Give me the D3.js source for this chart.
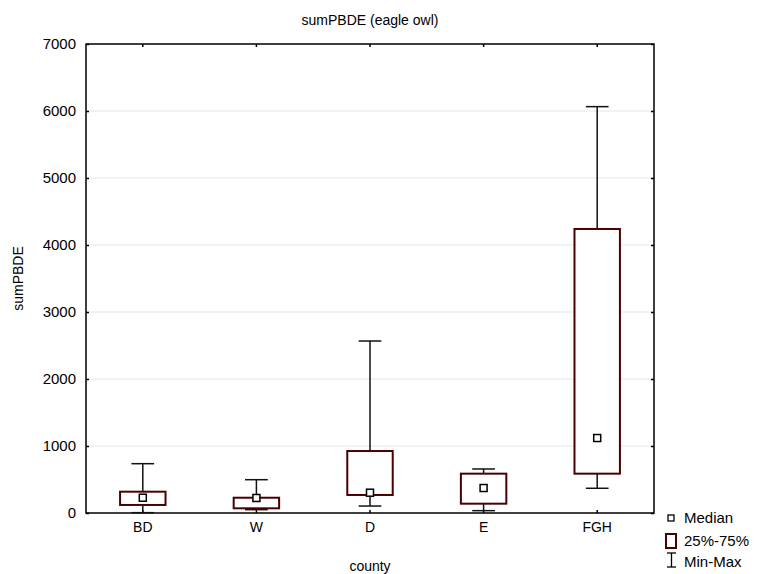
<!DOCTYPE html>
<html>
<head>
<meta charset="utf-8">
<script src="https://cdn.jsdelivr.net/npm/d3@7"></script>
<style>
  body { margin: 0; background: #fff; }
  text { font-family: "Liberation Sans", Arial, sans-serif; fill: #000; }
</style>
</head>
<body>
<svg id="myChart" width="760" height="574"></svg>
<script>
// county categories and box statistics
const counties = ["BD", "W", "D", "E", "FGH"];
const minVals = [5, 50, 104, 35, 369];
const q1Vals = [120, 70, 269, 139, 587];
const medianVals = [228, 224, 303, 373, 1119];
const q3Vals = [318, 228, 925, 587, 4239];
const maxVals = [736, 497, 2567, 657, 6065];
const yTicks = [0, 1000, 2000, 3000, 4000, 5000, 6000, 7000];

const boxColor = "#4a0000";

let svg = d3.select("#myChart");
let margin = {left: 86, right: 106, top: 44, bottom: 61};
let width = 760, height = 574;

let data = counties.map((c, i) => ({
    county: c, min: minVals[i], q1: q1Vals[i], median: medianVals[i], q3: q3Vals[i], max: maxVals[i]
}));

let x = d3.scaleBand()
    .domain(counties)
    .range([margin.left, width - margin.right])
    .padding(0);

let y = d3.scaleLinear()
    .domain([0, 7000])
    .range([height - margin.bottom, margin.top]);

// grid
svg.append("g")
    .selectAll("line")
    .data(yTicks.slice(1, -1))
    .enter().append("line")
    .attr("x1", margin.left).attr("x2", width - margin.right)
    .attr("y1", d => y(d)).attr("y2", d => y(d))
    .attr("stroke", "#e6e6e6").attr("stroke-width", 1.2);

// axes with inner ticks
let tickLen = 3;
svg.append("g")
    .attr("transform", "translate(" + margin.left + ",0)")
    .call(d3.axisLeft(y).tickValues(yTicks).tickSize(-tickLen).tickPadding(10).tickFormat(d3.format("d")))
    .call(g => g.select(".domain").remove())
    .call(g => g.selectAll("text").style("font-size", "15px"));

svg.append("g")
    .attr("transform", "translate(" + (width - margin.right) + ",0)")
    .call(d3.axisRight(y).tickValues(yTicks).tickSize(-tickLen).tickFormat(""))
    .call(g => g.select(".domain").remove());

svg.append("g")
    .attr("transform", "translate(0," + (height - margin.bottom) + ")")
    .call(d3.axisBottom(x).tickSize(-tickLen).tickPadding(9))
    .call(g => g.select(".domain").remove())
    .call(g => g.selectAll("text").style("font-size", "14px"));

svg.append("g")
    .attr("transform", "translate(0," + margin.top + ")")
    .call(d3.axisTop(x).tickSize(-tickLen).tickFormat(""))
    .call(g => g.select(".domain").remove());

svg.selectAll(".tick line").attr("stroke", "#000").attr("stroke-width", 1.5);

// frame
svg.append("rect")
    .attr("x", margin.left).attr("y", margin.top)
    .attr("width", width - margin.left - margin.right)
    .attr("height", height - margin.top - margin.bottom)
    .attr("fill", "none").attr("stroke", "#000").attr("stroke-width", 1.5);

// boxes
let boxW = x.bandwidth() * 0.4;
let capW = x.bandwidth() * 0.2;

let node = svg.selectAll(".box")
    .data(data)
    .enter().append("g")
    .attr("class", "box")
    .attr("transform", d => "translate(" + (x(d.county) + x.bandwidth() / 2) + ",0)");

node.append("line")
    .attr("x1", 0).attr("x2", 0)
    .attr("y1", d => y(d.q3)).attr("y2", d => y(d.max))
    .attr("stroke", "#111").attr("stroke-width", 1.5);
node.append("line")
    .attr("x1", 0).attr("x2", 0)
    .attr("y1", d => y(d.q1)).attr("y2", d => y(d.min))
    .attr("stroke", "#111").attr("stroke-width", 1.5);
node.append("line")
    .attr("x1", -capW / 2).attr("x2", capW / 2)
    .attr("y1", d => y(d.max)).attr("y2", d => y(d.max))
    .attr("stroke", "#111").attr("stroke-width", 1.5);
node.append("line")
    .attr("x1", -capW / 2).attr("x2", capW / 2)
    .attr("y1", d => y(d.min)).attr("y2", d => y(d.min))
    .attr("stroke", "#111").attr("stroke-width", 1.5);

node.append("rect")
    .attr("x", -boxW / 2).attr("width", boxW)
    .attr("y", d => y(d.q3)).attr("height", d => y(d.q1) - y(d.q3))
    .attr("fill", "#fff").attr("stroke", boxColor).attr("stroke-width", 2);

node.append("rect")
    .attr("x", -3.5).attr("width", 7)
    .attr("y", d => y(d.median) - 3.5).attr("height", 7)
    .attr("fill", "#fff").attr("stroke", "#000").attr("stroke-width", 1.5);

// titles
svg.append("text")
    .attr("x", (margin.left + width - margin.right) / 2).attr("y", 25)
    .attr("text-anchor", "middle").style("font-size", "14px")
    .text("sumPBDE (eagle owl)");

svg.append("text")
    .attr("x", (margin.left + width - margin.right) / 2).attr("y", 571)
    .attr("text-anchor", "middle").style("font-size", "14px")
    .text("county");

svg.append("text")
    .attr("transform", "translate(23," + ((margin.top + height - margin.bottom) / 2) + ") rotate(-90)")
    .attr("text-anchor", "middle").style("font-size", "14px")
    .text("sumPBDE");

// legend
let lg = svg.append("g").attr("transform", "translate(671,0)");
lg.append("rect").attr("x", -3).attr("y", 515).attr("width", 6).attr("height", 6)
    .attr("fill", "#fff").attr("stroke", "#000").attr("stroke-width", 1.3);
lg.append("text").attr("x", 13).attr("y", 523).style("font-size", "15px").text("Median");

lg.append("rect").attr("x", -5).attr("y", 534).attr("width", 10).attr("height", 14)
    .attr("fill", "#fff").attr("stroke", boxColor).attr("stroke-width", 2);
lg.append("text").attr("x", 13).attr("y", 546).style("font-size", "15px").text("25%-75%");

lg.append("line").attr("x1", 0.5).attr("x2", 0.5).attr("y1", 553).attr("y2", 567).attr("stroke", "#000").attr("stroke-width", 1.3);
lg.append("line").attr("x1", -4).attr("x2", 5).attr("y1", 553).attr("y2", 553).attr("stroke", "#000").attr("stroke-width", 1.3);
lg.append("line").attr("x1", -4).attr("x2", 5).attr("y1", 567).attr("y2", 567).attr("stroke", "#000").attr("stroke-width", 1.3);
lg.append("text").attr("x", 13).attr("y", 567).style("font-size", "15px").text("Min-Max");
</script>
</body>
</html>
